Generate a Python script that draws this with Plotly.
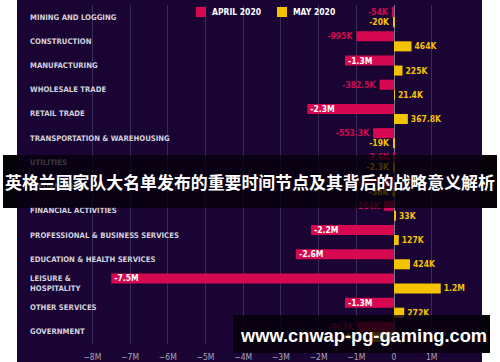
import plotly.graph_objects as go

categories = ["MINING AND LOGGING", "CONSTRUCTION", "MANUFACTURING", "WHOLESALE TRADE",
              "RETAIL TRADE", "TRANSPORTATION & WAREHOUSING", "UTILITIES", "INFORMATION",
              "FINANCIAL ACTIVITIES", "PROFESSIONAL & BUSINESS SERVICES",
              "EDUCATION & HEALTH SERVICES", "LEISURE &<br>HOSPITALITY", "OTHER SERVICES",
              "GOVERNMENT"]
april = [-54e3, -995e3, -1.3e6, -382.5e3, -2.3e6, -553.3e3, -3.6e3, -254e3, -264e3,
         -2.2e6, -2.6e6, -7.5e6, -1.3e6, -963e3]
april_text = ["-54K", "-995K", "-1.3M", "-382.5K", "-2.3M", "-553.3K", "-3.6K", "-254K",
              "-264K", "-2.2M", "-2.6M", "-7.5M", "-1.3M", "-963K"]
may = [-20e3, 464e3, 225e3, 21.4e3, 367.8e3, -19e3, -2.3e3, -38e3, 33e3, 127e3, 424e3,
       1.24e6, 272e3, -585e3]
may_text = ["-20K", "464K", "225K", "21.4K", "367.8K", "-19K", "-2.3K", "-38K", "33K",
            "127K", "424K", "1.2M", "272K", "-585K"]
tick_vals = [-8e6, -7e6, -6e6, -5e6, -4e6, -3e6, -2e6, -1e6, 0, 1e6]
tick_text = ["\u22128M", "\u22127M", "\u22126M", "\u22125M", "\u22124M", "\u22123M",
             "\u22122M", "\u22121M", "0", "1M"]

BG = "#1a0434"
RED = "#d6084f"
GOLD = "#f3c300"
FONT = "Liberation Sans Narrow, DejaVu Sans Condensed, Arial Narrow, sans-serif"

W, H = 500, 362
L, R, T, B = 17, 18, 5, 18
PW, PH = W - L - R, H - T - B

def px(x):
    return (x - L) / PW

def py(y):
    return (H - B - y) / PH

april_pos = ["inside" if v <= -1.0e6 else "outside" for v in april]

fig = go.Figure()
fig.add_trace(go.Bar(
    y=categories, x=april, orientation="h", name="APRIL 2020",
    marker=dict(color=RED, line=dict(width=0)),
    text=april_text, textposition=april_pos, insidetextanchor="end",
    insidetextfont=dict(color="white", family=FONT, size=8.5, weight="bold"),
    outsidetextfont=dict(color=RED, family=FONT, size=8.5, weight="bold"),
    constraintext="none", cliponaxis=False, textangle=0, hoverinfo="skip"))
fig.add_trace(go.Bar(
    y=categories, x=may, orientation="h", name="MAY 2020",
    marker=dict(color=GOLD, line=dict(width=0)),
    text=may_text, textposition="outside",
    outsidetextfont=dict(color=GOLD, family=FONT, size=8.5, weight="bold"),
    constraintext="none", cliponaxis=False, textangle=0, hoverinfo="skip"))

shapes = [
    dict(type="rect", xref="paper", yref="paper", x0=px(0), x1=px(L), y0=py(H), y1=py(0),
         fillcolor="white", line=dict(width=0), layer="above"),
    dict(type="rect", xref="paper", yref="paper", x0=px(482), x1=px(W), y0=py(H), y1=py(0),
         fillcolor="white", line=dict(width=0), layer="above"),
    # legend swatches
    dict(type="rect", xref="paper", yref="paper", x0=px(196), x1=px(206), y0=py(17), y1=py(7),
         fillcolor=RED, line=dict(width=0), layer="above"),
    dict(type="rect", xref="paper", yref="paper", x0=px(277), x1=px(287), y0=py(17), y1=py(7),
         fillcolor=GOLD, line=dict(width=0), layer="above"),
]

annotations = []
for c in categories:
    annotations.append(dict(
        text=c, xref="paper", yref="y", x=px(28), y=c, xanchor="left", yanchor="middle",
        align="left", showarrow=False,
        font=dict(color="#d4d2dc", family=FONT, size=7.7, weight="bold")))

def box(x0, x1, y0, y1, color):
    return dict(text=" ", xref="paper", yref="paper", x=px((x0 + x1) / 2),
                y=py((y0 + y1) / 2), xanchor="center", yanchor="middle", showarrow=False,
                width=x1 - x0, height=y1 - y0, bgcolor=color, borderpad=0, borderwidth=0,
                font=dict(size=1))

annotations += [
    dict(text="APRIL 2020", xref="paper", yref="paper", x=px(210), y=py(12), xanchor="left",
         yanchor="middle", showarrow=False,
         font=dict(color="white", family=FONT, size=8.5, weight="bold")),
    dict(text="MAY 2020", xref="paper", yref="paper", x=px(291), y=py(12), xanchor="left",
         yanchor="middle", showarrow=False,
         font=dict(color="white", family=FONT, size=8.5, weight="bold")),
    box(17, 482, 155, 208, "rgba(4,0,8,0.74)"),
    box(3, 17, 155, 208, "#050308"),
    box(482, 497, 155, 208, "#050308"),
    box(233, 482, 315, 353, "rgba(4,0,8,0.8)"),
    box(482, 490, 315, 353, "#050308"),
    dict(text="英格兰国家队大名单发布的重要时间节点及其背后的战略意义解析", xref="paper",
         yref="paper", x=px(250), y=py(182), xanchor="center", yanchor="middle",
         showarrow=False,
         font=dict(color="white", family="Noto Sans CJK SC", size=16.9, weight="bold")),
    dict(text="www.cnwap-pg-gaming.com", xref="paper", yref="paper", x=px(363), y=py(335),
         xanchor="center", yanchor="middle", showarrow=False,
         font=dict(color="white", family="Liberation Sans, Arial, sans-serif", size=18.3,
                   weight="bold")),
]

fig.update_layout(
    width=W, height=H, margin=dict(l=L, r=R, t=T, b=B, autoexpand=False),
    paper_bgcolor=BG, plot_bgcolor=BG,
    barmode="group", bargap=0.17, bargroupgap=0,
    showlegend=False, shapes=shapes, annotations=annotations,
    xaxis=dict(range=[-10.0e6, 2.334e6], tickvals=tick_vals, ticktext=tick_text,
               showgrid=True, gridcolor="#3b2a5a", gridwidth=1,
               zeroline=True, zerolinecolor="#7a7090", zerolinewidth=1,
               showline=False, ticks="", ticklabelstandoff=6, automargin=False,
               tickfont=dict(color="#a8a4b8", family=FONT, size=8.5), fixedrange=True),
    yaxis=dict(autorange="reversed", showgrid=False, zeroline=False, showline=False,
               ticks="", showticklabels=False, automargin=False, fixedrange=True),
)

fig.write_html("out.html", config={"displayModeBar": False},
               post_script="document.body.style.margin='0';")
